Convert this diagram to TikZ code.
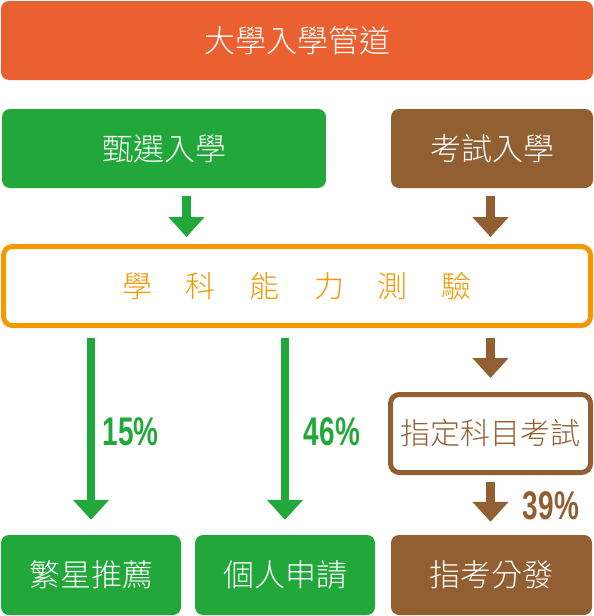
\documentclass[tikz,border=0pt]{standalone}
\usepackage{fontspec}
\usepackage{graphicx}
\usepackage{tikz}
\usetikzlibrary{arrows.meta,positioning}
\newfontfamily\cjk{Noto Sans CJK TC Light}
\newfontfamily\numfont{Liberation Sans}
\definecolor{pathred}{HTML}{EA6030}
\definecolor{selgreen}{HTML}{22A83A}
\definecolor{exambrown}{HTML}{925F33}
\definecolor{aptorange}{HTML}{F39800}

\begin{document}
\begin{tikzpicture}[
  x=1pt, y=-1pt,
  fillbox/.style={rounded corners=8pt, inner sep=0pt, minimum height=79pt,
    text=white, font=\cjk\fontsize{31}{31}\selectfont},
  linebox/.style={draw, line width=5pt, rounded corners=9pt, fill=white,
    inner sep=0pt, minimum height=79pt, font=\cjk\fontsize{30}{30}\selectfont},
  arr/.style={line width=8.5pt, -{Triangle[length=20pt,width=35pt]}},
  pct/.style={font=\numfont\bfseries\fontsize{40}{40}\selectfont},
]
\useasboundingbox (0,0) rectangle (594,616);

\node[fillbox, fill=pathred, minimum width=592pt] (path) at (297,40.5) {大學入學管道};
\node[fillbox, fill=selgreen, minimum width=324pt] (sel) at (164,148.5) {甄選入學};
\node[fillbox, fill=exambrown, minimum width=202pt] (exam) at (492,148.5) {考試入學};

\node[linebox, draw=aptorange, text=aptorange, minimum width=587pt] (apt) at (297,286)
  {學\hspace{34pt}科\hspace{34pt}能\hspace{34pt}力\hspace{34pt}測\hspace{34pt}驗};

\node[linebox, draw=exambrown, text=exambrown, minimum width=200pt, minimum height=78pt] (spec) at (490.5,433.5)
  {指定科目考試};

\node[fillbox, fill=selgreen, minimum width=180pt, minimum height=80pt] (star) at (91,575) {繁星推薦};
\node[fillbox, fill=selgreen, minimum width=180pt, minimum height=80pt] (apply) at (285,575) {個人申請};
\node[fillbox, fill=exambrown, minimum width=201pt, minimum height=80pt] (dist) at (491.5,575) {指考分發};

\draw[arr, selgreen, shorten <=8pt, shorten >=7pt]
  ([xshift=22.5pt]sel.south) -- ([xshift=22.5pt]sel.south |- apt.north);
\draw[arr, exambrown, shorten <=8pt, shorten >=7pt]
  (spec.north |- exam.south) -- (spec.north |- apt.north);

\draw[arr, selgreen, shorten <=10pt, shorten >=15pt] (star.north |- apt.south) -- (star.north);
\draw[arr, selgreen, shorten <=10pt, shorten >=15pt] (apply.north |- apt.south) -- (apply.north);
\draw[arr, exambrown, shorten <=10pt, shorten >=14pt] (spec.north |- apt.south) -- (spec.north);
\draw[arr, exambrown, shorten <=7pt, shorten >=13pt] (spec.south) -- (spec.south |- dist.north);

\node[pct, text=selgreen] (pstar) at (130.5,432) {\scalebox{0.7}[1]{15\%}};
\node[pct, text=selgreen] (papply) at (332,432) {\scalebox{0.7}[1]{46\%}};
\node[pct, text=exambrown] (pdist) at (551,506) {\scalebox{0.7}[1]{39\%}};
\end{tikzpicture}
\end{document}
